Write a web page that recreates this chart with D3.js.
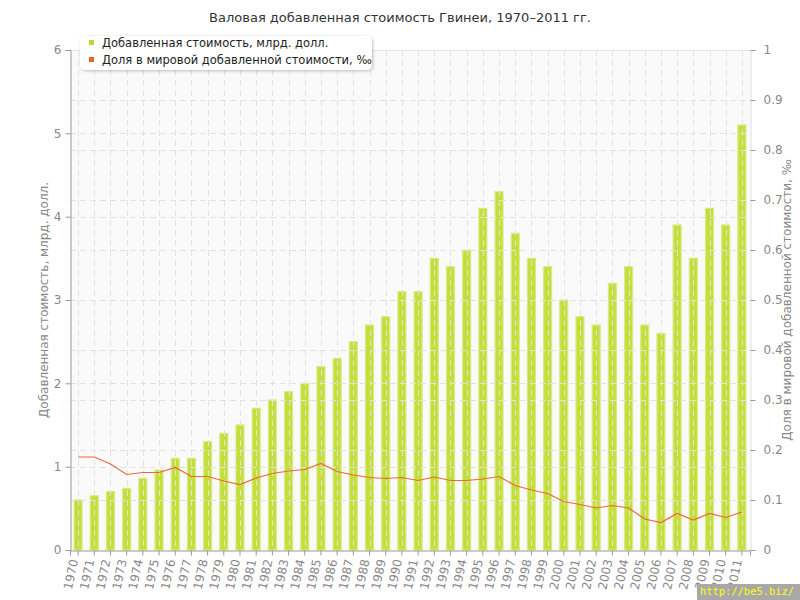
<!DOCTYPE html>
<html><head><meta charset="utf-8">
<script src="https://cdn.jsdelivr.net/npm/d3@7"></script>
<style>body{margin:0;background:#fff;}svg{display:block;font-family:"DejaVu Sans",Verdana,sans-serif;}</style>
</head><body>
<script>
const years = d3.range(1970, 2012).map(String);
const valueAdded = [0.6,0.65,0.7,0.74,0.86,0.96,1.1,1.1,1.3,1.4,1.5,1.7,1.8,1.9,2.0,2.2,2.3,2.5,2.7,2.8,3.1,3.1,3.5,3.4,3.6,4.1,4.3,3.8,3.5,3.4,3.0,2.8,2.7,3.2,3.4,2.7,2.6,3.9,3.5,4.1,3.9,5.1];
const worldShare = [0.186,0.186,0.172,0.151,0.155,0.155,0.165,0.147,0.147,0.138,0.131,0.144,0.153,0.158,0.161,0.173,0.157,0.150,0.145,0.143,0.145,0.139,0.146,0.139,0.139,0.142,0.147,0.129,0.120,0.113,0.097,0.091,0.084,0.089,0.084,0.062,0.055,0.073,0.060,0.073,0.065,0.076];
const leftTicks = [0,1,2,3,4,5,6];
const rightTicks = [0,0.1,0.2,0.3,0.4,0.5,0.6,0.7,0.8,0.9,1];
const title = "Валовая добавленная стоимость Гвинеи, 1970–2011 гг.";
const seriesNames = ["Добавленная стоимость, млрд. долл.", "Доля в мировой добавленной стоимости, ‰"];
const leftLabel = "Добавленная стоимость, млрд. долл.";
const rightLabel = "Доля в мировой добавленной стоимости, ‰";

const W = 800, H = 600, L = 70, R = 750, T = 50, B = 550;
const svg = d3.select("body").append("svg").attr("width", W).attr("height", H);
const defs = svg.append("defs");
const f = defs.append("filter").attr("id","sh").attr("x","-10%").attr("y","-30%").attr("width","130%").attr("height","180%");
f.append("feDropShadow").attr("dx",1).attr("dy",1).attr("stdDeviation",1.5).attr("flood-color","#000").attr("flood-opacity",0.25);

const x = d3.scaleBand().domain(years).range([L, R]).padding(0);
const y = d3.scaleLinear().domain([0, 6]).range([B, T]);
const y2 = d3.scaleLinear().domain([0, 1]).range([B, T]);

svg.append("rect").attr("x", L).attr("y", T).attr("width", R - L).attr("height", B - T).attr("fill", "#fafafa");

// bars
svg.append("g").selectAll("rect").data(years).join("rect")
  .attr("x", d => x(d) + x.bandwidth()/2 - 4)
  .attr("y", (d,i) => y(valueAdded[i]))
  .attr("width", 8)
  .attr("height", (d,i) => B - y(valueAdded[i]))
  .attr("fill", "#c4de3a").attr("stroke", "#d7eb80").attr("stroke-width", 1.2);

// grid
const grid = svg.append("g").attr("stroke", "#e2e2e2").attr("stroke-dasharray", "6,4").attr("stroke-width", 1);
grid.selectAll(".h2").data(rightTicks.slice(1)).join("line")
  .attr("x1", L).attr("x2", R).attr("y1", d => Math.round(y2(d))+0.5).attr("y2", d => Math.round(y2(d))+0.5);
grid.selectAll(".h1").data(leftTicks.slice(1,-1)).join("line")
  .attr("x1", L).attr("x2", R).attr("y1", d => Math.round(y(d))+0.5).attr("y2", d => Math.round(y(d))+0.5);
grid.selectAll(".v").data(years).join("line")
  .attr("y1", T).attr("y2", B).attr("x1", d => Math.round(x(d) + x.bandwidth()/2)+0.5).attr("x2", d => Math.round(x(d) + x.bandwidth()/2)+0.5);

// line
svg.append("path").datum(worldShare)
  .attr("fill", "none").attr("stroke", "#e8693c").attr("stroke-width", 1.2)
  .attr("d", d3.line().x((d,i) => x(years[i]) + x.bandwidth()/2).y(d => y2(d)));

svg.append("line").attr("x1", L).attr("x2", R).attr("y1", T+0.5).attr("y2", T+0.5).attr("stroke", "#e4e4e4");

// axes
const axL = svg.append("g").attr("transform", `translate(${L+0.5},0)`)
  .call(d3.axisLeft(y).tickValues(leftTicks).tickFormat(d3.format("d")).tickSize(5).tickPadding(4));
const axR = svg.append("g").attr("transform", `translate(${R+0.5},0)`)
  .call(d3.axisRight(y2).tickValues(rightTicks).tickFormat(d => d === 0 ? "0" : d === 1 ? "1" : d3.format(".1f")(d)).tickSize(5).tickPadding(8));
const axB = svg.append("g").attr("transform", `translate(0,${B+0.5})`)
  .call(d3.axisBottom(x).tickSize(5).tickPadding(4));
[axL, axR, axB].forEach(a => {
  a.selectAll("text").attr("fill", "#888").attr("font-size", 12).attr("font-family", "DejaVu Sans, Verdana, sans-serif");
  a.selectAll("line").attr("stroke", "#999");
  a.select(".domain").attr("stroke", "#999");
});
axR.select(".domain").attr("stroke", "#ddd");
axB.selectAll("text").attr("text-anchor", "end").attr("transform", "translate(-4,9) rotate(-78)").attr("dy", "0.35em").attr("x", 0).attr("y", 0);

// axis titles
svg.append("text").attr("transform", `translate(48,${(T+B)/2}) rotate(-90)`).attr("text-anchor", "middle")
  .attr("fill", "#888").attr("font-size", 12).text(leftLabel);
svg.append("text").attr("transform", `translate(791,${(T+B)/2}) rotate(-90)`).attr("text-anchor", "middle")
  .attr("fill", "#888").attr("font-size", 12).text(rightLabel);

// title
svg.append("text").attr("x", 400).attr("y", 22).attr("text-anchor", "middle").attr("fill", "#333").attr("font-size", 13).text(title);

// legend
const lg = svg.append("g");
lg.append("rect").attr("x", 80).attr("y", 36).attr("width", 292).attr("height", 34).attr("rx", 5)
  .attr("fill", "#fff").attr("filter", "url(#sh)");
const colors = ["#b9d83a", "#e8632e"];
seriesNames.forEach((s, i) => {
  lg.append("rect").attr("x", 89).attr("y", 40 + i*17).attr("width", 5).attr("height", 5).attr("fill", colors[i]);
  lg.append("text").attr("x", 102).attr("y", 47 + i*17).attr("font-size", 11.5).attr("fill", "#222").text(s);
});

// watermark
svg.append("rect").attr("x", 697).attr("y", 584).attr("width", 103).attr("height", 16).attr("fill", "#a8a8a8");
svg.append("text").attr("x", 700).attr("y", 595).attr("font-size", 11).attr("fill", "#ffff00")
  .attr("font-family", "DejaVu Sans Mono, monospace").attr("textLength", 94).attr("lengthAdjust", "spacingAndGlyphs").text("http://be5.biz/");
</script>
</body></html>
